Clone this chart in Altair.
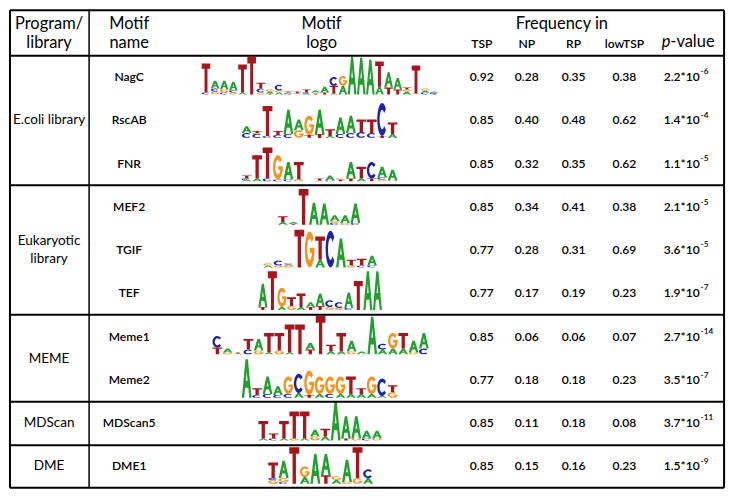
import re
import altair as alt
import pandas as pd

# ---------------- DATA ----------------
programs = ["E.coli library", "Eukaryotic\nlibrary", "MEME", "MDScan", "DME"]
motifs = ["NagC", "RscAB", "FNR", "MEF2", "TGIF", "TEF", "Meme1", "Meme2", "MDScan5", "DME1"]
motif_program = [0, 0, 0, 1, 1, 1, 2, 2, 3, 4]
freq_tsp = [0.92, 0.85, 0.85, 0.85, 0.77, 0.77, 0.85, 0.77, 0.85, 0.85]
freq_np = [0.28, 0.40, 0.32, 0.34, 0.28, 0.17, 0.06, 0.18, 0.11, 0.15]
freq_rp = [0.35, 0.48, 0.35, 0.41, 0.31, 0.19, 0.06, 0.18, 0.18, 0.16]
freq_lowtsp = [0.38, 0.62, 0.62, 0.38, 0.69, 0.23, 0.07, 0.23, 0.08, 0.23]
p_mantissa = ["2.2", "1.4", "1.1", "2.1", "3.6", "1.9", "2.7", "3.5", "3.7", "1.5"]
p_exponent = ["-6", "-4", "-5", "-5", "-5", "-7", "-14", "-7", "-11", "-9"]
freq_headers = ["TSP", "NP", "RP", "lowTSP"]

# sequence logo columns (letters bottom -> top, height in bits)
logo_nagc = ["C.1T1.5", "G.15C.15A.4", "C.1G.15A.45", "G.1C.1A.45", "A.1T1.45", "T1.95",
             "G.1C.2T.3", "T.05A.1G.1", "A.1G.1C.3", "C.05A.05T.05", "G.05T.1", "A.05C.05T.15",
             "T.05G.05A.1", "T.1A.3", "A.05T.4C.45", "A.45G.5", "A1.95", "A1.9", "A1.8",
             "A.4T1.3", "T.35A.8", "T.25A.6", "A.15G.1T.1", "G.05T1.45", "C.1A.1G.1", "T.05C.05A.05"]
logo_rscab = ["C.25A.35", "C.2G.05T.1", "C.1T1.55", "C.15T.2", "C.2A1.25", "G.4A.55", "T.15G1.0",
              "T.2A1.25", "A.1T.35", "C.2A.85", "C.25A.9", "C.3T.65", "C.25T.7", "T.1C1.7", "A.2T.6"]
logo_fnr = ["A.1C.05T.15", "A.15T1.2", "C.15T1.6", "C.1G1.25", "C.1A.9", "G.1T.9", "",
            "A.05T.1", "C.05A.25", "T.1G.05", "T.15A.85", "A.15T.6", "T.15C.85", "G.1C.1A.55", "G.05A.55"]
logo_mef2 = ["A.15T.3", "T.05A.1", "T1.85", "A1.15", "A1.1", "C.1G.1A.3", "G.1A.4", "C.1A1.0"]
logo_tgif = ["A.1G.1", "G.1C.25", "G.1A.05C.05", "T1.95", "G1.85", "A.4T1.2", "C1.9", "A1.5",
             "G.1T.3", "C.1T.35", "C.1A.5"]
logo_tef = ["T.15A1.2", "T2.0", "A.15G1.0", "G.2T.45", "A.15T.7", "T.15A.25", "T.2A.65",
            "G.15C.35", "G.1C.3", "C.1A.8", "T1.5", "A2.0", "A2.0"]
logo_meme1 = ["T.35C.6", "G.1A.2", "A.05T.05", "C.25T.55", "G.2A.6", "A.1T1.0", "G.2T.9",
              "A.1T1.45", "T1.55", "T.25A.35", "T2.0", "A.15T.35", "A.15T.95", "G.15A.55",
              "C.05A.1", "A1.95", "A.25C.3", "A.3G.8", "A.3T.8", "G.1A.6", "C.3A.8"]
logo_meme2 = ["A2.0", "C.15T.35", "C.2A.9", "C.15A.45", "C.2G.9", "A.25C1.0", "T.15G1.25",
              "A.2G.9", "C.2G.9", "A.2G.9", "A.2T.9", "A.2T.3", "A.2G.9", "A.1C.9", "G.3T.35"]
logo_mdscan5 = ["A.1T.9", "C.1T.25", "A.1T.9", "G.1T1.4", "A.1T1.4", "G.2A.35", "A.2T.4",
                "A2.0", "T.1A1.15", "G.1A1.15", "C.1A.4", "G.1A.4"]
logo_dme1 = ["G.2C.1T.8", "C.1G.2A.9", "T1.9", "A.35G.55", "A1.55", "T.45A1.1", "A.2G.2",
             "G.1A1.15", "G.3T1.6", "A.3C.45"]
logos = [logo_nagc, logo_rscab, logo_fnr, logo_mef2, logo_tgif, logo_tef,
         logo_meme1, logo_meme2, logo_mdscan5, logo_dme1]

# ---------------- LAYOUT / STYLE ----------------
REF_W, REF_H = 735, 497
W, H = 719, 481
SX, SY = W / REF_W, H / REF_H
FONT = "Lato"
row_y = [70, 115, 160, 205, 249, 293, 339, 384, 428, 473]
sep_y = [48, 182, 316, 406, 451]
top_y, bottom_y, left_x, right_x, div_x = 1, 495, 1, 732, 82
prog_x, name_x, logo_hdr_x = 41, 123, 320
freq_x = [484, 530, 578, 630]
pbase_x = 707
logo_x = [(197, 440), (238, 398), (238, 398), (275, 360), (260, 377),
          (255, 382), (208, 430), (238, 398), (255, 382), (265, 373)]
BASE_OFF = 18
PX_PER_BIT = 20
LETTER_COLORS = {"A": "#20A02C", "C": "#1A22B0", "G": "#F5921E", "T": "#A8161C"}

UNIT = {
    "T": [("M", 0, 0), ("L", 1, 0), ("L", 1, .18), ("L", .67, .18), ("L", .67, 1),
          ("L", .33, 1), ("L", .33, .18), ("L", 0, .18), ("Z",)],
    "A": [("M", 0, 1), ("L", .38, 0), ("L", .62, 0), ("L", 1, 1), ("L", .76, 1),
          ("L", .661, .74), ("L", .339, .74), ("L", .24, 1), ("Z",),
          ("M", .59, .56), ("L", .5, .316), ("L", .41, .56), ("Z",)],
    "C": [("M", .883, .179), ("A", .5, .5, 1, 0, .883, .821), ("L", .70, .69),
          ("A", .26, .30, 1, 1, .70, .31), ("Z",)],
    "G": [("M", .883, .179), ("A", .5, .5, 1, 0, .995, .56), ("L", .995, .45),
          ("L", .52, .45), ("L", .52, .60), ("L", .74, .60),
          ("A", .26, .30, 1, 1, .70, .31), ("Z",)],
}


def glyph_path(letter, gw, gh):
    out = []
    for c in UNIT[letter]:
        if c[0] in "ML":
            out.append(f"{c[0]}{-gw / 2 + c[1] * gw:.2f} {-gh / 2 + c[2] * gh:.2f}")
        elif c[0] == "A":
            rx, ry, la, sw, u, v = c[1:]
            out.append(f"A{rx * gw:.2f} {ry * gh:.2f} 0 {la} {sw} "
                       f"{-gw / 2 + u * gw:.2f} {-gh / 2 + v * gh:.2f}")
        else:
            out.append("Z")
    return " ".join(out)


# glyph table
glyphs = []
for r, cols in enumerate(logos):
    x0, x1 = logo_x[r]
    cw = (x1 - x0) / len(cols)
    base = row_y[r] + BASE_OFF
    for i, col in enumerate(cols):
        cum = 0.0
        for m in re.finditer(r"([ACGT])([\d.]+)", col):
            letter, bits = m.group(1), float(m.group(2))
            h = bits * PX_PER_BIT
            glyphs.append({
                "x": x0 + (i + 0.5) * cw,
                "y": base - cum - h / 2,
                "path": glyph_path(letter, cw * SX * 0.94, h * SY),
                "color": LETTER_COLORS[letter],
            })
            cum += h
glyph_df = pd.DataFrame(glyphs)

# rules
rules = []
for y in [top_y, bottom_y] + sep_y:
    rules.append({"x": left_x, "x2": right_x, "y": y, "y2": y, "sw": 2})
for x in [left_x, right_x]:
    rules.append({"x": x, "x2": x, "y": top_y, "y2": bottom_y, "sw": 2})
rules.append({"x": div_x, "x2": div_x, "y": top_y, "y2": bottom_y, "sw": 1.5})
rule_df = pd.DataFrame(rules)

# centred texts: large (headers, programs) and small (cells)
big, small = [], []
def add(lst, x, y, t, s):
    lst.append({"x": x, "y": y, "text": t, "size": s * SY})

add(big, prog_x, 15, "Program/", 17)
add(big, prog_x, 35, "library", 17)
add(big, name_x, 15, "Motif", 17)
add(big, name_x, 35, "name", 17)
add(big, logo_hdr_x, 15, "Motif", 17)
add(big, logo_hdr_x, 35, "logo", 17)
add(big, 566, 15, "Frequency in", 17)
for hx, ht in zip(freq_x, freq_headers):
    add(small, hx, 36, ht, 12.5)

group_rows = {}
for r, g in enumerate(motif_program):
    group_rows.setdefault(g, []).append(row_y[r])
for g, name in enumerate(programs):
    ys = group_rows[g]
    cy = (min(ys) + max(ys)) / 2
    lines = name.split("\n")
    for k, ln in enumerate(lines):
        add(big, prog_x, cy + (k - (len(lines) - 1) / 2) * 18, ln, 14)

for r in range(len(motifs)):
    add(small, name_x, row_y[r], motifs[r], 12.5)
    for fx, arr in zip(freq_x, [freq_tsp, freq_np, freq_rp, freq_lowtsp]):
        add(small, fx, row_y[r], f"{arr[r]:.2f}", 12.5)
big_df = pd.DataFrame(big)
small_df = pd.DataFrame(small)

pb_df = pd.DataFrame({"x": [pbase_x] * len(motifs), "y": row_y,
                      "text": [m + "*10" for m in p_mantissa]})
pe_df = pd.DataFrame({"x": [pbase_x + 1] * len(motifs), "y": [y - 5 for y in row_y],
                      "text": p_exponent})
ph_df = pd.DataFrame({"x": [677], "y": [34], "text": ["p"]})
pv_df = pd.DataFrame({"x": [677], "y": [34], "text": ["-value"]})

X = alt.X("x:Q", scale=alt.Scale(domain=[0, REF_W], nice=False, zero=False), axis=None)
Y = alt.Y("y:Q", scale=alt.Scale(domain=[0, REF_H], nice=False, zero=False, reverse=True), axis=None)

rule_layer = alt.Chart(rule_df).mark_rule(color="black").encode(
    x=X, y=Y, x2="x2:Q", y2="y2:Q", strokeWidth=alt.StrokeWidth("sw:Q", scale=None))

big_layer = alt.Chart(big_df).mark_text(font=FONT, align="center", baseline="middle",
                                        color="black").encode(
    x=X, y=Y, text="text:N", size=alt.Size("size:Q", scale=None))
small_layer = alt.Chart(small_df).mark_text(font=FONT, align="center", baseline="middle",
                                            color="black", fontWeight=600).encode(
    x=X, y=Y, text="text:N", size=alt.Size("size:Q", scale=None))

pb_layer = alt.Chart(pb_df).mark_text(font=FONT, align="right", baseline="middle", fontWeight=600,
                                      color="black", fontSize=12.5 * SY).encode(x=X, y=Y, text="text:N")
pe_layer = alt.Chart(pe_df).mark_text(font=FONT, align="left", baseline="middle", fontWeight=600,
                                      color="black", fontSize=8.5 * SY).encode(x=X, y=Y, text="text:N")
ph_layer = alt.Chart(ph_df).mark_text(font=FONT, align="right", baseline="middle", fontStyle="italic",
                                      color="black", fontSize=17 * SY).encode(x=X, y=Y, text="text:N")
pv_layer = alt.Chart(pv_df).mark_text(font=FONT, align="left", baseline="middle",
                                      color="black", fontSize=17 * SY).encode(x=X, y=Y, text="text:N")

logo_layer = alt.Chart(glyph_df).mark_point(filled=True, opacity=1, strokeWidth=0, size=4).encode(
    x=X, y=Y,
    shape=alt.Shape("path:N", scale=None, legend=None),
    color=alt.Color("color:N", scale=None, legend=None),
)

chart = alt.layer(logo_layer, rule_layer, big_layer, small_layer, pb_layer, pe_layer,
                  ph_layer, pv_layer).properties(
    width=W, height=H, padding=0, background="white",
).configure_view(stroke=None)

chart.save("out.html", embed_options={"renderer": "svg", "actions": False})
